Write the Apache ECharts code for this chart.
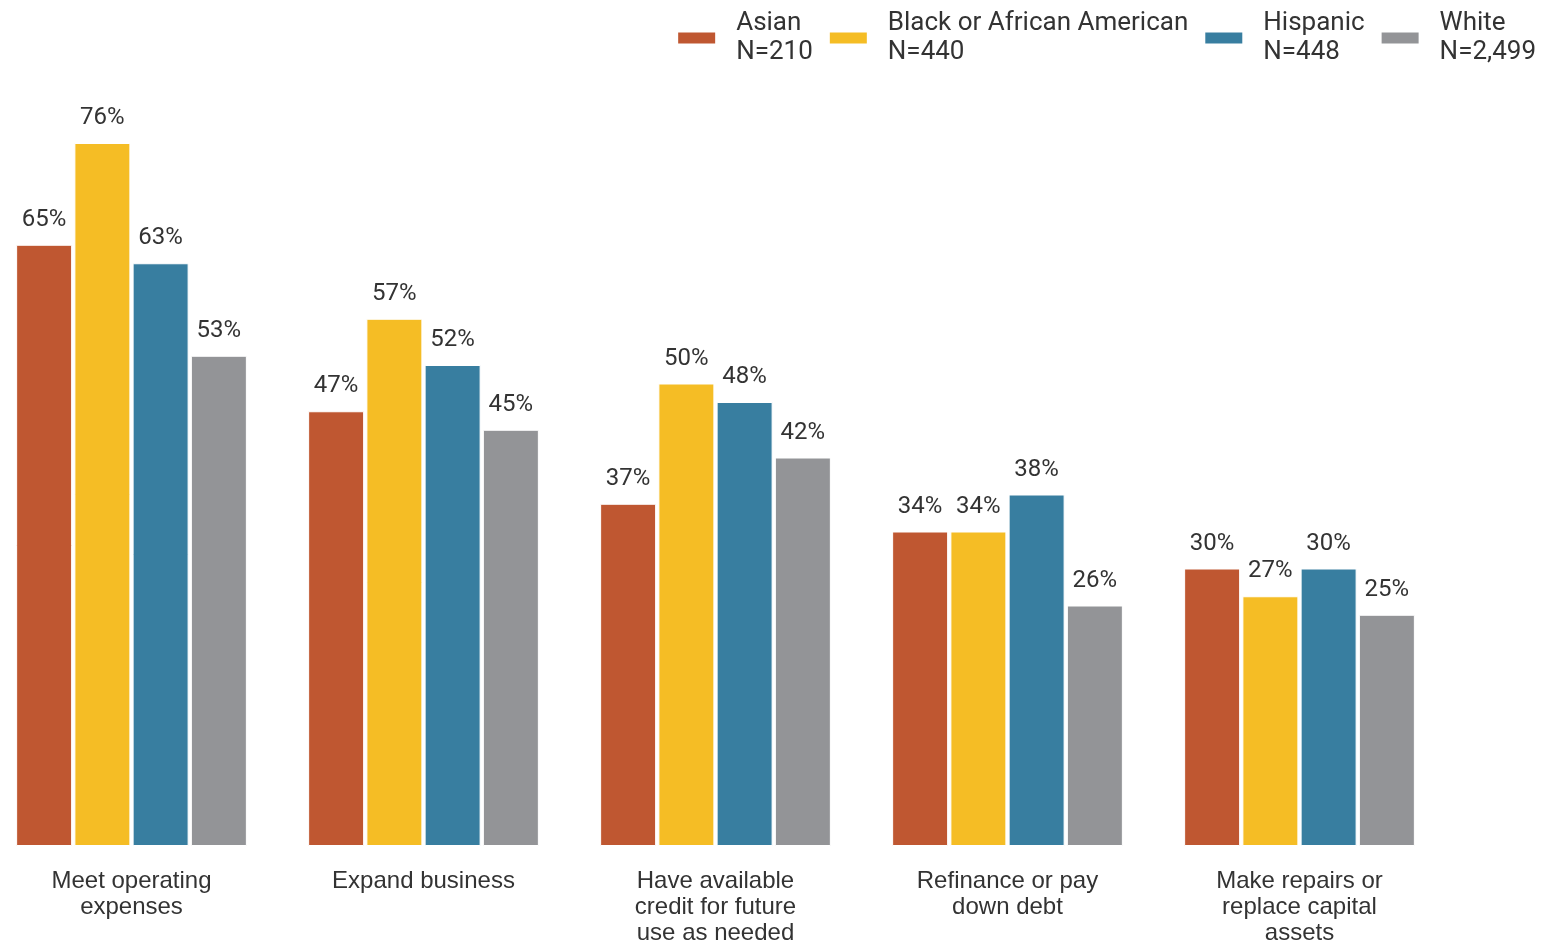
<!DOCTYPE html>
<html>
<head>
<meta charset="utf-8">
<script src="https://cdn.jsdelivr.net/npm/echarts@6/dist/echarts.min.js"></script>
<style>
  html, body { margin: 0; padding: 0; background: #fff; }
  #chart { width: 1550px; height: 944px; }
</style>
</head>
<body>
<div id="chart"></div>
<script>
const categories = [
    'Meet operating\nexpenses',
    'Expand business',
    'Have available\ncredit for future\nuse as needed',
    'Refinance or pay\ndown debt',
    'Make repairs or\nreplace capital\nassets'
];
const seriesNames = ['Asian\nN=210', 'Black or African American\nN=440', 'Hispanic\nN=448', 'White\nN=2,499'];
const asian = [65, 47, 37, 34, 30];
const black = [76, 57, 50, 34, 27];
const hispanic = [63, 52, 48, 38, 30];
const white = [53, 45, 42, 26, 25];
const colors = ['#BF5731', '#F5BD25', '#387EA0', '#939497'];

const chart = echarts.init(document.getElementById('chart'));

const seriesData = [asian, black, hispanic, white];

// 막대 시리즈 생성
const series = seriesData.map((values, i) => ({
    name: seriesNames[i],
    type: 'bar',
    data: values,
    barWidth: 56,
    barGap: '4%',
    itemStyle: { color: colors[i], borderColor: '#fff', borderWidth: 1 },
    label: {
        show: true,
        position: 'top',
        distance: 13,
        formatter: '{c}%',
        fontFamily: 'Roboto',
        fontSize: 24,
        color: '#333'
    }
}));

chart.setOption({
    backgroundColor: '#fff',
    animation: false,
    color: colors,
    legend: {
        right: 9,
        top: 4,
        itemWidth: 39,
        itemHeight: 13,
        itemGap: 15,
        icon: 'rect',
        textStyle: {
            fontFamily: 'Roboto',
            fontSize: 26,
            color: '#333',
            lineHeight: 29,
            padding: [0, 0, 0, 15]
        },
        data: seriesNames
    },
    grid: { left: -14.5, width: 1460, top: 143, bottom: 98, outerBoundsMode: 'none', containLabel: false },
    xAxis: {
        type: 'category',
        data: categories,
        axisLine: { show: false },
        axisTick: { show: false },
        axisLabel: {
            margin: 22,
            fontFamily: 'Liberation Sans',
            fontSize: 24,
            lineHeight: 26,
            color: '#333',
            interval: 0
        }
    },
    yAxis: {
        type: 'value',
        min: 0,
        max: 76,
        show: false
    },
    series: series
});
</script>
</body>
</html>
